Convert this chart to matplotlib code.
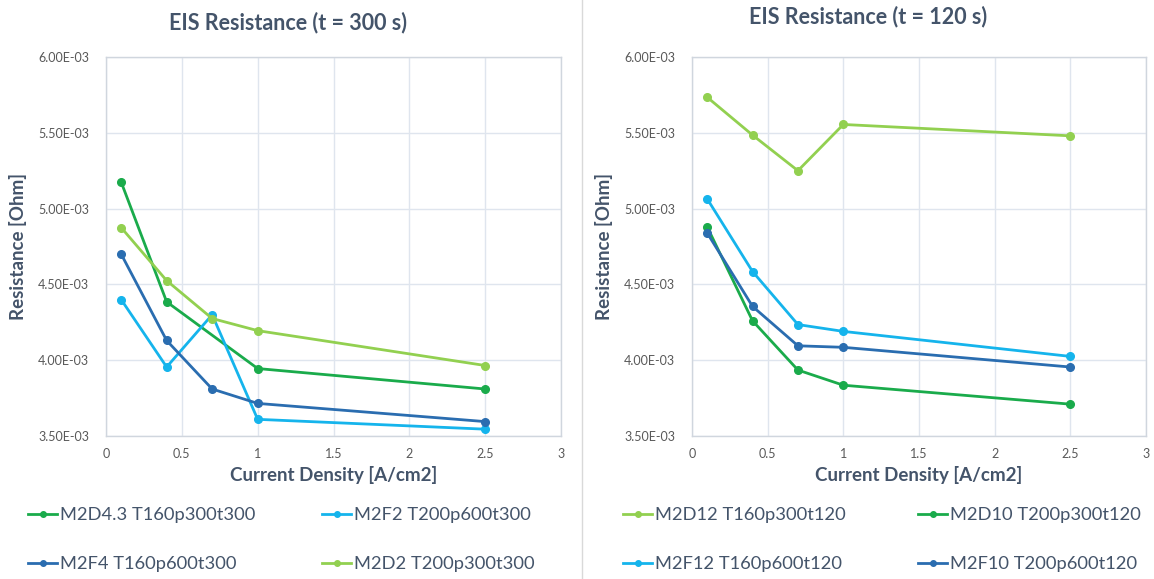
import matplotlib
matplotlib.use("Agg")
import matplotlib.pyplot as plt
from matplotlib.ticker import FuncFormatter, MultipleLocator
from matplotlib.lines import Line2D

plt.rcParams['font.family'] = ['Lato', 'DejaVu Sans']

# ---- data: t = 300 s ----
left_title = "EIS Resistance (t = 300 s)"
left_names = ["M2D4.3 T160p300t300", "M2F2 T200p600t300",
              "M2F4 T160p600t300", "M2D2 T200p300t300"]
left_x = [
    [0.1, 0.4, 1.0, 2.5],
    [0.1, 0.4, 0.7, 1.0, 2.5],
    [0.1, 0.4, 0.7, 1.0, 2.5],
    [0.1, 0.4, 0.7, 1.0, 2.5],
]
left_y = [
    [5.175e-3, 4.385e-3, 3.945e-3, 3.81e-3],
    [4.40e-3, 3.955e-3, 4.30e-3, 3.61e-3, 3.545e-3],
    [4.70e-3, 4.13e-3, 3.81e-3, 3.715e-3, 3.595e-3],
    [4.875e-3, 4.525e-3, 4.275e-3, 4.195e-3, 3.965e-3],
]

# ---- data: t = 120 s ----
right_title = "EIS Resistance (t = 120 s)"
right_names = ["M2D12 T160p300t120", "M2D10 T200p300t120",
               "M2F12 T160p600t120", "M2F10 T200p600t120"]
right_x = [
    [0.1, 0.4, 0.7, 1.0, 2.5],
    [0.1, 0.4, 0.7, 1.0, 2.5],
    [0.1, 0.4, 0.7, 1.0, 2.5],
    [0.1, 0.4, 0.7, 1.0, 2.5],
]
right_y = [
    [5.735e-3, 5.485e-3, 5.25e-3, 5.555e-3, 5.48e-3],
    [4.88e-3, 4.26e-3, 3.935e-3, 3.835e-3, 3.71e-3],
    [5.065e-3, 4.585e-3, 4.235e-3, 4.19e-3, 4.025e-3],
    [4.84e-3, 4.355e-3, 4.095e-3, 4.085e-3, 3.955e-3],
]

DGREEN = "#1aab4b"
LBLUE = "#15b4ec"
DBLUE = "#2a6db0"
LGREEN = "#92d050"
left_colors = [DGREEN, LBLUE, DBLUE, LGREEN]
right_colors = [LGREEN, DGREEN, LBLUE, DBLUE]

TITLE_C = "#44546a"
TICK_C = "#595959"
GRID_C = "#dfe5ee"

W, H = 1154, 579
fig = plt.figure(figsize=(W / 100, H / 100), dpi=100)
fig.patch.set_facecolor("white")


def px_axes(x0, y0, x1, y1):
    return fig.add_axes([x0 / W, 1 - y1 / H, (x1 - x0) / W, (y1 - y0) / H])


def style(ax, title, title_x, title_y):
    ax.set_xlim(0, 3)
    ax.set_ylim(3.5e-3, 6.0e-3)
    ax.xaxis.set_major_locator(MultipleLocator(0.5))
    ax.yaxis.set_major_locator(MultipleLocator(0.5e-3))
    ax.xaxis.set_major_formatter(FuncFormatter(lambda v, p: f"{v:g}"))
    ax.yaxis.set_major_formatter(FuncFormatter(lambda v, p: f"{v:.2E}"))
    ax.grid(True, color=GRID_C, linewidth=1.0)
    ax.set_axisbelow(True)
    for s in ax.spines.values():
        s.set_color("#d0d6de")
        s.set_linewidth(1.0)
    ax.tick_params(length=0, colors=TICK_C, labelsize=9)
    ax.tick_params(axis="x", pad=9)
    ax.tick_params(axis="y", pad=12)
    ax.set_xlabel("Current Density [A/cm2]", fontsize=13.5, fontweight="bold",
                  color=TITLE_C, labelpad=4)
    ax.set_ylabel("Resistance [Ohm]", fontsize=13.5, fontweight="bold",
                  color=TITLE_C, labelpad=8)
    fig.text(title_x / W, 1 - title_y / H, title, ha="center", va="center",
             fontsize=15.5, fontweight="bold", color=TITLE_C)


def plot_panel(ax, xs, ys, colors, names):
    handles = []
    for x, y, c, n in zip(xs, ys, colors, names):
        h, = ax.plot(x, y, color=c, linewidth=2.0, marker="o", markersize=5.5,
                     label=n, solid_joinstyle="round")
        handles.append(h)
    return handles


axL = px_axes(106, 57, 561, 436)
axR = px_axes(692, 57, 1146, 436)

hl = plot_panel(axL, left_x, left_y, left_colors, left_names)
hr = plot_panel(axR, right_x, right_y, right_colors, right_names)
style(axL, left_title, 288, 23)
style(axR, right_title, 868, 17)

# legend entries laid out in a 2x2 grid under each panel
legend_pos_left = [(28, 515), (322, 515), (28, 564), (322, 564)]
legend_pos_right = [(623, 515), (918, 515), (623, 564), (918, 564)]


def entry(h, name, pos):
    proxy = Line2D([], [], color=h.get_color(), linewidth=2.0, marker="o",
                   markersize=4)
    leg = fig.legend([proxy], [name], loc="center left",
                     bbox_to_anchor=(pos[0] / W, 1 - pos[1] / H),
                     frameon=False, fontsize=13.2, handlelength=1.6,
                     handletextpad=0.15, borderaxespad=0, borderpad=0)
    for t in leg.get_texts():
        t.set_color(TITLE_C)


for h, n, p in zip(hl, left_names, legend_pos_left):
    entry(h, n, p)
for h, n, p in zip(hr, right_names, legend_pos_right):
    entry(h, n, p)

# divider between the two charts
fig.add_artist(Line2D([582 / W, 582 / W], [0, 1], color="#d9d9d9",
                      linewidth=1.0, transform=fig.transFigure))

fig.savefig("out.png", dpi=100, facecolor="white")
